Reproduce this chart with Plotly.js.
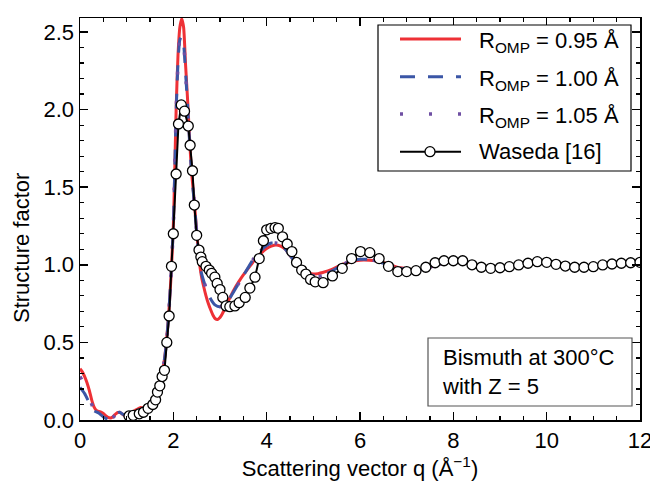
<!DOCTYPE html>
<html>
<head>
<meta charset="utf-8">
<script src="https://cdn.plot.ly/plotly-3.0.1.min.js"></script>
<style>html,body{margin:0;padding:0;background:#fff;}#chart{width:650px;height:488px;}</style>
</head>
<body>
<div id="chart"></div>
<script>
// R_OMP = 0.95 Å
const qRed = [0,0.05,0.1,0.15,0.2,0.25,0.3,0.35,0.4,0.45,0.5,0.55,0.6,0.65,0.7,0.75,0.8,0.85,0.9,0.95,1.0,
  1.1,1.2,1.3,1.4,1.5,1.6,1.7,1.75,1.8,1.85,1.9,1.95,2.0,2.03,2.06,2.1,2.14,2.18,2.22,2.26,
  2.31,2.35,2.39,2.43,2.47,2.51,2.55,2.6,2.65,2.7,2.75,2.8,2.85,2.9,2.95,3.0,3.05,3.1,3.2,3.3,
  3.4,3.5,3.6,3.7,3.8,3.9,4.0,4.1,4.2,4.3,4.4,4.5,4.6,4.7,4.8,4.9,5.0,5.1,5.2,
  5.4,5.6,5.8,6.0,6.2,6.4,6.6,6.8,7.0,7.2,7.4,7.6,7.8,8.0,8.2,8.4,8.6,8.8,9.0,9.2,
  9.4,9.6,9.8,10.0,10.2,10.4,10.6,10.8,11.0];
const sRed = [0.33,0.31,0.28,0.24,0.19,0.13,0.085,0.062,0.055,0.05,0.042,0.028,0.017,0.013,0.02,0.035,0.048,0.05,0.04,0.03,0.03,
  0.045,0.065,0.08,0.075,0.09,0.14,0.24,0.30,0.37,0.50,0.68,0.92,1.25,1.6,2.0,2.35,2.53,2.585,2.53,2.3,
  2.04,1.8,1.6,1.47,1.33,1.18,1.04,0.93,0.86,0.80,0.75,0.71,0.675,0.652,0.648,0.66,0.685,0.715,0.78,0.84,
  0.89,0.935,0.975,1.015,1.05,1.08,1.105,1.12,1.128,1.12,1.10,1.06,1.025,0.99,0.965,0.948,0.94,0.943,0.95,
  0.97,1.0,1.02,1.03,1.03,1.025,1.005,0.985,0.975,0.966,0.975,0.995,1.012,1.02,1.018,1.005,0.99,0.983,0.985,0.992,
  1.0,1.007,1.01,1.007,1.0,0.993,0.99,0.992,0.997];

// R_OMP = 1.00 Å and 1.05 Å (same q grid)
const qCalc = [0,0.1,0.2,0.3,0.4,0.5,0.6,0.7,0.8,0.85,0.9,1.0,1.1,1.2,1.3,1.4,1.5,1.6,1.7,1.75,
  1.8,1.85,1.9,1.95,2.0,2.03,2.06,2.1,2.14,2.18,2.22,2.26,2.31,2.35,2.39,2.43,2.47,2.51,2.55,2.6,
  2.7,2.8,2.9,3.0,3.1,3.2,3.3,3.4,3.5,3.6,3.7,3.8,3.9,4.0,4.1,4.2,4.3,4.4,4.5,4.6,
  4.7,4.8,4.9,5.0,5.1,5.2,5.4,5.6,5.8,6.0,6.2,6.4,6.6,6.8,7.0,7.2,7.4,7.6,7.8,8.0,
  8.2,8.4,8.6,8.8,9.0,9.2,9.4,9.6,9.8,10.0,10.2,10.4,10.6,10.8,11.0];
const sBlue = [0.21,0.17,0.11,0.06,0.045,0.02,0.005,0.015,0.045,0.05,0.04,0.025,0.035,0.05,0.07,0.075,0.09,0.14,0.23,0.30,
  0.37,0.49,0.68,0.93,1.25,1.6,1.98,2.3,2.45,2.47,2.42,2.25,2.0,1.78,1.59,1.46,1.32,1.17,1.04,0.95,
  0.85,0.78,0.74,0.73,0.745,0.78,0.83,0.88,0.93,0.98,1.03,1.07,1.10,1.125,1.14,1.14,1.13,1.10,1.06,1.02,
  0.98,0.955,0.94,0.93,0.925,0.93,0.96,0.995,1.025,1.035,1.035,1.02,1.0,0.98,0.97,0.965,0.975,0.995,1.012,1.02,
  1.018,1.005,0.99,0.983,0.985,0.992,1.0,1.007,1.01,1.007,1.0,0.993,0.99,0.992,0.997];
const sPurple = [0.28,0.22,0.14,0.07,0.05,0.02,0.005,0.015,0.045,0.05,0.04,0.025,0.035,0.05,0.07,0.075,0.09,0.14,0.23,0.30,
  0.37,0.49,0.68,0.93,1.25,1.6,1.98,2.3,2.46,2.48,2.43,2.25,2.0,1.78,1.59,1.46,1.32,1.17,1.04,0.95,
  0.85,0.78,0.74,0.73,0.745,0.78,0.83,0.88,0.93,0.98,1.03,1.07,1.10,1.125,1.14,1.14,1.13,1.10,1.06,1.02,
  0.98,0.955,0.94,0.93,0.925,0.93,0.96,0.995,1.025,1.035,1.035,1.02,1.0,0.98,0.97,0.965,0.975,0.995,1.012,1.02,
  1.018,1.005,0.99,0.983,0.985,0.992,1.0,1.007,1.01,1.007,1.0,0.993,0.99,0.992,0.997];

// Waseda [16] experimental data
const qExp = [1.05,1.14,1.27,1.36,1.46,1.56,1.62,1.66,1.71,1.76,1.81,1.86,
  1.91,1.96,2.00,2.06,2.11,2.17,2.24,2.32,2.36,2.41,
  2.45,2.50,2.55,2.59,2.62,2.70,2.77,2.82,2.89,2.94,
  3.00,3.06,3.13,3.21,3.32,3.41,3.54,3.64,3.75,3.84,
  3.93,4.00,4.09,4.18,4.25,4.34,4.44,4.54,4.64,4.75,
  4.84,4.94,5.04,5.21,5.41,5.62,5.82,6.01,6.21,6.41,
  6.61,6.81,7.00,7.20,7.41,7.61,7.80,8.00,8.20,8.40,
  8.60,8.80,9.00,9.20,9.40,9.60,9.80,10.00,10.20,10.40,
  10.60,10.80,11.00,11.20,11.40,11.60,11.80,12.00];
const sExp = [0.026,0.03,0.04,0.05,0.075,0.10,0.13,0.18,0.22,0.28,0.32,0.50,
  0.67,0.99,1.20,1.585,1.907,2.03,1.99,1.894,1.77,1.606,
  1.385,1.19,1.095,1.05,1.02,0.99,0.966,0.945,0.92,0.88,
  0.84,0.79,0.735,0.73,0.735,0.756,0.79,0.85,0.92,1.04,
  1.155,1.225,1.235,1.24,1.235,1.18,1.134,1.085,1.015,0.966,
  0.94,0.906,0.89,0.885,0.928,0.977,1.04,1.085,1.078,1.04,
  0.99,0.956,0.956,0.962,0.984,1.013,1.026,1.026,1.026,1.0,
  0.984,0.977,0.981,0.988,0.999,1.01,1.02,1.016,1.003,0.992,
  0.984,0.984,0.988,0.999,1.005,1.01,1.013,1.016];

const seriesNames = ['R<sub>OMP</sub> = 0.95 Å', 'R<sub>OMP</sub> = 1.00 Å', 'R<sub>OMP</sub> = 1.05 Å', 'Waseda [16]'];
const xTicks = [0, 2, 4, 6, 8, 10, 12];
const yTicks = [0.0, 0.5, 1.0, 1.5, 2.0, 2.5];
const yTickText = ['0.0', '0.5', '1.0', '1.5', '2.0', '2.5'];

const FONT = 'Liberation Sans, Arial, sans-serif';
const colors = ['#ee3136', '#3b56a6', '#6f4fa3', '#000000'];
const dashes = ['solid', '15px,13px', '3px,26px', 'solid'];
const widths = [3, 3, 3.5, 2];

const traces = [
  {x: qRed, y: sRed, name: seriesNames[0], mode: 'lines', type: 'scatter', showlegend: false,
   line: {color: colors[0], width: widths[0], shape: 'spline', smoothing: 0.6}},
  {x: qCalc, y: sBlue, name: seriesNames[1], mode: 'lines', type: 'scatter', showlegend: false,
   line: {color: colors[1], width: widths[1], dash: dashes[1], shape: 'spline', smoothing: 0.6}},
  {x: qCalc, y: sPurple, name: seriesNames[2], mode: 'lines', type: 'scatter', showlegend: false,
   line: {color: colors[2], width: widths[2], dash: dashes[2], shape: 'spline', smoothing: 0.6}},
  {x: qExp, y: sExp, name: seriesNames[3], mode: 'lines+markers', type: 'scatter', showlegend: false,
   line: {color: colors[3], width: widths[3]},
   marker: {symbol: 'circle', size: 10, color: '#fff', line: {color: '#000', width: 1.3}}}
];

const axisCommon = {
  showline: true, linecolor: '#000', linewidth: 1.5, mirror: 'allticks',
  ticks: 'inside', ticklen: 8, tickwidth: 1.5, tickcolor: '#000',
  showgrid: false, zeroline: false, ticklabeloverflow: 'allow',
  tickfont: {family: FONT, size: 22, color: '#000'}
};

// legend drawn in paper coordinates
const px2x = p => (p - 80) / 560;
const px2y = p => (420 - p) / 402;
const rowY = [39, 76.7, 114, 151.7];

const shapes = [{
  type: 'rect', xref: 'paper', yref: 'paper',
  x0: px2x(378), x1: px2x(631), y0: px2y(171), y1: px2y(25),
  line: {color: '#000', width: 1.2}, fillcolor: '#fff', layer: 'above'
}];
const annotations = [];
for (let i = 0; i < 4; i++) {
  shapes.push({
    type: 'line', xref: 'paper', yref: 'paper', layer: 'above',
    x0: px2x(400), x1: px2x(461), y0: px2y(rowY[i]), y1: px2y(rowY[i]),
    line: {color: colors[i], width: i === 3 ? 2 : widths[i], dash: dashes[i]}
  });
  annotations.push({
    xref: 'paper', yref: 'paper', x: px2x(477), y: px2y(rowY[i]),
    xanchor: 'left', yanchor: 'middle', yshift: i < 3 ? -3 : 0,
    text: seriesNames[i], showarrow: false, align: 'left',
    font: {family: FONT, size: 22, color: '#000'}
  });
}
shapes.push({
  type: 'circle', xref: 'paper', yref: 'paper', layer: 'above',
  xsizemode: 'pixel', ysizemode: 'pixel',
  xanchor: px2x(430), yanchor: px2y(rowY[3]),
  x0: -5, x1: 5, y0: -5, y1: 5,
  line: {color: '#000', width: 1.3}, fillcolor: '#fff'
});

// info box
shapes.push({
  type: 'rect', xref: 'paper', yref: 'paper',
  x0: px2x(428), x1: px2x(632), y0: px2y(406), y1: px2y(338),
  line: {color: '#555', width: 1.2}, fillcolor: '#fff', layer: 'above'
});
annotations.push({
  xref: 'paper', yref: 'paper', x: px2x(440), y: px2y(372), xanchor: 'left', yanchor: 'middle',
  text: 'Bismuth at 300°C<br>with Z = 5', align: 'left', showarrow: false,
  font: {family: FONT, size: 22, color: '#000'}
});
// y axis title
annotations.push({
  xref: 'paper', yref: 'paper', x: px2x(22), y: px2y(248), xanchor: 'center', yanchor: 'middle',
  text: 'Structure factor', textangle: -90, showarrow: false,
  font: {family: FONT, size: 22, color: '#000'}
});

const layout = {
  width: 650, height: 488,
  margin: {l: 80, r: 10, t: 18, b: 68},
  paper_bgcolor: '#fff', plot_bgcolor: '#fff',
  font: {family: FONT, size: 22, color: '#000'},
  showlegend: false,
  xaxis: Object.assign({}, axisCommon, {
    range: [0, 12], tickvals: xTicks,
    minor: {dtick: 0.5, ticklen: 4, tickwidth: 1.2, tickcolor: '#000', ticks: 'inside'},
    title: {text: 'Scattering vector q (Å<sup>−1</sup>)', font: {family: FONT, size: 22, color: '#000'}, standoff: 8}
  }),
  yaxis: Object.assign({}, axisCommon, {
    range: [0, 2.59], tickvals: yTicks, ticktext: yTickText,
    minor: {dtick: 0.1, ticklen: 4, tickwidth: 1.2, tickcolor: '#000', ticks: 'inside'}
  }),
  shapes: shapes,
  annotations: annotations
};

Plotly.newPlot('chart', traces, layout, {displayModeBar: false, staticPlot: true});
</script>
</body>
</html>
